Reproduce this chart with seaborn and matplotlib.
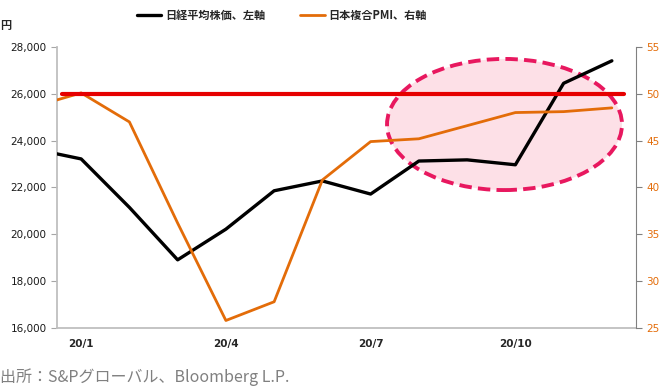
from matplotlib import pyplot as plt
from matplotlib.patches import Ellipse
import pandas as pd
import seaborn as sns

# month index: -1 = 19/12 (clipped at the left edge), 0 = 20/1 ... 11 = 20/12
months = ["19/12", "20/1", "20/2", "20/3", "20/4", "20/5", "20/6",
          "20/7", "20/8", "20/9", "20/10", "20/11", "20/12"]
month_idx = list(range(-1, 12))
nikkei = [23650, 23220, 21150, 18910, 20220, 21860, 22280,
          21720, 23130, 23180, 22970, 26450, 27410]
pmi = [48.6, 50.1, 47.0, 36.2, 25.8, 27.8, 40.8,
       44.9, 45.2, 46.6, 48.0, 48.1, 48.5]
tick_labels = ["20/1", "20/4", "20/7", "20/10"]
label_pos = [0, 3, 6, 9]
pmi_threshold = 50

df = pd.DataFrame({"month": months, "x": month_idx, "nikkei": nikkei, "pmi": pmi})

sns.set_style("white")
plt.rcParams["font.family"] = ["DejaVu Sans", "Noto Sans CJK JP"]
jp = ["Noto Sans CJK JP", "DejaVu Sans"]

BLACK = "#000000"
ORANGE = "#e36c09"
RED = "#e60000"

fig = plt.figure(figsize=(6.6, 3.9), dpi=100)
ax = fig.add_axes([0.0864, 0.159, 0.8772, 0.7205])
ax2 = ax.twinx()

# highlight ellipse (behind the lines)
ax.add_patch(Ellipse((8.775, 24690), 4.87, 5600, facecolor="#fde0e7",
                     edgecolor="#e8185f", lw=2.8, ls=(0, (3.2, 1.6)), zorder=0.5))

sns.lineplot(data=df, x="x", y="nikkei", ax=ax, color=BLACK, lw=2.4,
             label="日経平均株価、左軸", legend=False, zorder=3)
sns.lineplot(data=df, x="x", y="pmi", ax=ax2, color=ORANGE, lw=2.0,
             label="日本複合PMI、右軸", legend=False, zorder=3)
ax2.axhline(pmi_threshold, xmin=0.009, xmax=0.979, color=RED, lw=3.0, zorder=4)

ax.set_xlim(-0.5, 11.5)
ax.set_ylim(16000, 28000)
ax2.set_ylim(25, 55)

ax.set_yticks(range(16000, 28001, 2000))
ax.set_yticklabels([f"{v:,}" for v in range(16000, 28001, 2000)])
ax2.set_yticks(range(25, 56, 5))

ax.set_xticks([-0.5, 2.5, 5.5, 8.5, 11.5])
ax.set_xticklabels([])
ax.set_xticks(label_pos, minor=True)
ax.set_xticklabels(tick_labels, minor=True, fontsize=7.5, fontweight="bold")
ax.tick_params(axis="x", which="minor", length=0, pad=8)
ax.tick_params(axis="x", which="major", length=4, color="#a6a6a6", direction="out")
ax.tick_params(axis="y", length=4, color="#a6a6a6", labelsize=7.5,
               labelcolor="#1a1a1a", direction="out", left=True)
ax2.tick_params(axis="y", length=4, color="#808080", labelsize=7.5,
                labelcolor=ORANGE, direction="out", right=True)

ax.set_xlabel("")
ax.set_ylabel("")
ax2.set_ylabel("")

for a in (ax, ax2):
    a.spines["top"].set_visible(False)
    a.grid(False)
ax.spines["left"].set_color("#bfbfbf")
ax.spines["left"].set_linewidth(1.3)
ax.spines["bottom"].set_color("#bfbfbf")
ax.spines["bottom"].set_linewidth(1.3)
ax.spines["right"].set_visible(False)
ax2.spines["left"].set_visible(False)
ax2.spines["bottom"].set_visible(False)
ax2.spines["right"].set_color("#808080")

h1, l1 = ax.get_legend_handles_labels()
h2, l2 = ax2.get_legend_handles_labels()
fig.legend(h1 + h2, l1 + l2, loc="center", bbox_to_anchor=(0.427, 0.9615),
           ncol=2, frameon=False, handlelength=2.2, handletextpad=0.3,
           columnspacing=3.2, prop={"family": jp, "size": 8, "weight": "bold"})

fig.text(0.0, 1 - 25 / 390, "円", family=jp, fontsize=8, fontweight="bold",
         va="center", ha="left")
fig.text(0.0, 1 - 377 / 390, "出所：S&Pグローバル、Bloomberg L.P.", family=jp,
         fontsize=11.5, color="#808080", va="center", ha="left")

fig.savefig("out.png", dpi=100)
